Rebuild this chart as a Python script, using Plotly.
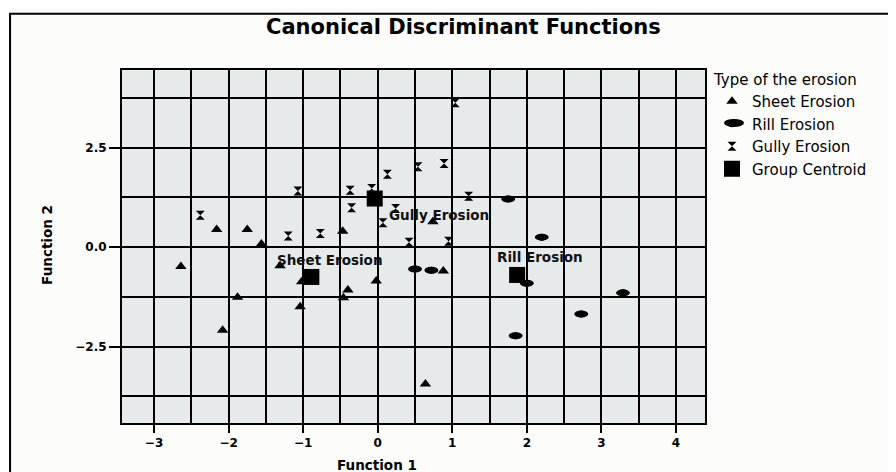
import plotly.graph_objects as go

# ---- data ----
sheet_x = [-2.16, -1.75, -1.56, -2.64, -1.31, -0.47, -1.88, -2.08, -1.04, -1.02, -0.40, -0.46, -0.02, 0.88, 0.64, 0.74]
sheet_y = [0.44, 0.44, 0.08, -0.49, -0.47, 0.40, -1.26, -2.09, -1.50, -0.87, -1.08, -1.27, -0.85, -0.60, -3.44, 0.64]

rill_x = [0.50, 0.72, 1.75, 2.20, 2.00, 2.73, 1.85, 3.29]
rill_y = [-0.55, -0.58, 1.21, 0.25, -0.91, -1.68, -2.23, -1.15]

gully_x = [1.04, 0.54, 0.89, 0.13, -1.07, -0.37, -0.08, 1.22, -0.35, 0.24, 0.07, -0.77, -1.20, 0.42, 0.95, -2.38]
gully_y = [3.63, 2.02, 2.10, 1.83, 1.41, 1.43, 1.47, 1.28, 0.99, 0.97, 0.61, 0.34, 0.28, 0.12, 0.15, 0.80]

centroid_names = ["Sheet Erosion", "Rill Erosion", "Gully Erosion"]
centroid_x = [-0.89, 1.87, -0.04]
centroid_y = [-0.75, -0.70, 1.22]
label_x = [-1.38, 1.57, 0.13]
label_y = [-0.33, -0.24, 0.80]

x_range = [-3.43, 4.39]
y_range = [-4.42, 4.45]

FONT = "DejaVu Sans"

fig = go.Figure()
fig.add_trace(go.Scatter(x=sheet_x, y=sheet_y, mode="markers", name="Sheet Erosion",
                         marker=dict(symbol="triangle-up", size=10, color="black")))
fig.add_trace(go.Scatter(x=rill_x, y=rill_y, mode="markers", name="Rill Erosion",
                         marker=dict(symbol="circle", size=7, color="black")))
fig.add_trace(go.Scatter(x=gully_x, y=gully_y, mode="markers", name="Gully Erosion",
                         marker=dict(symbol="hourglass", size=9, color="black")))
fig.add_trace(go.Scatter(x=centroid_x, y=centroid_y, mode="markers", name="Group Centroid",
                         marker=dict(symbol="square", size=16, color="black")))

shapes = []
# ellipse outline of rill markers, anchored at the data points
for xv, yv in zip(rill_x, rill_y):
    shapes.append(dict(type="circle", xref="x", yref="y", xsizemode="pixel", ysizemode="pixel",
                       xanchor=xv, yanchor=yv, x0=-7, x1=7, y0=-3.5, y1=3.5,
                       fillcolor="black", line=dict(width=0), layer="above"))
# ellipse on the rill legend symbol
shapes.append(dict(type="circle", xref="paper", yref="paper", xsizemode="pixel", ysizemode="pixel",
                   xanchor=1.0497, yanchor=0.850, x0=-10, x1=10, y0=-4, y1=4,
                   fillcolor="black", line=dict(width=0), layer="above"))
# outer chart frame
shapes.append(dict(type="rect", xref="paper", yref="paper", x0=-0.192, x1=1.5, y0=-0.4, y1=1.159,
                   line=dict(color="black", width=2), fillcolor="rgba(0,0,0,0)", layer="below"))

annotations = []
for name, lx, ly in zip(centroid_names, label_x, label_y):
    annotations.append(dict(x=lx, y=ly, xref="x", yref="y", text=name, showarrow=False,
                            xanchor="left", yanchor="middle",
                            font=dict(family=FONT, size=13.5, color="#111111", weight="bold")))
annotations.append(dict(x=0.585, y=1.122, xref="paper", yref="paper", showarrow=False,
                        text="Canonical Discriminant Functions", xanchor="center", yanchor="middle",
                        font=dict(family=FONT, size=21, color="black", weight="bold")))
annotations.append(dict(x=0.437, y=-0.119, xref="paper", yref="paper", showarrow=False,
                        text="Function 1", xanchor="center", yanchor="middle",
                        font=dict(family=FONT, size=13.5, color="black", weight="bold")))
annotations.append(dict(x=-0.129, y=0.504, xref="paper", yref="paper", showarrow=False,
                        text="Function 2", textangle=-90, xanchor="center", yanchor="middle",
                        font=dict(family=FONT, size=13.5, color="black", weight="bold")))

axis_common = dict(showgrid=True, gridcolor="black", gridwidth=2,
                   ticks="outside", tickwidth=2, tickcolor="black",
                   showline=True, linecolor="black", linewidth=2, mirror=True, zeroline=False,
                   tickfont=dict(family=FONT, size=12, color="black", weight="bold"))

fig.update_layout(
    width=888, height=464,
    margin=dict(l=114, r=191, t=62, b=49, autoexpand=False),
    paper_bgcolor="#fcfcfb", plot_bgcolor="#e6eaea",
    showlegend=True,
    legend=dict(x=1.012, y=1.013, xanchor="left", yanchor="top", bgcolor="rgba(0,0,0,0)",
                title=dict(text="Type of the erosion", font=dict(family=FONT, size=15, color="black")),
                font=dict(family=FONT, size=15, color="black")),
    xaxis=dict(range=x_range, tickmode="linear", tick0=0, dtick=1, ticklen=8,
               minor=dict(tick0=0, dtick=0.5, showgrid=True, gridcolor="black", gridwidth=2),
               **axis_common),
    yaxis=dict(range=y_range, tickmode="linear", tick0=0, dtick=2.5, ticklen=11, tickformat=".1f",
               minor=dict(tick0=0, dtick=1.25, showgrid=True, gridcolor="black", gridwidth=2),
               **axis_common),
    shapes=shapes, annotations=annotations,
)

fig.write_html("out.html")
